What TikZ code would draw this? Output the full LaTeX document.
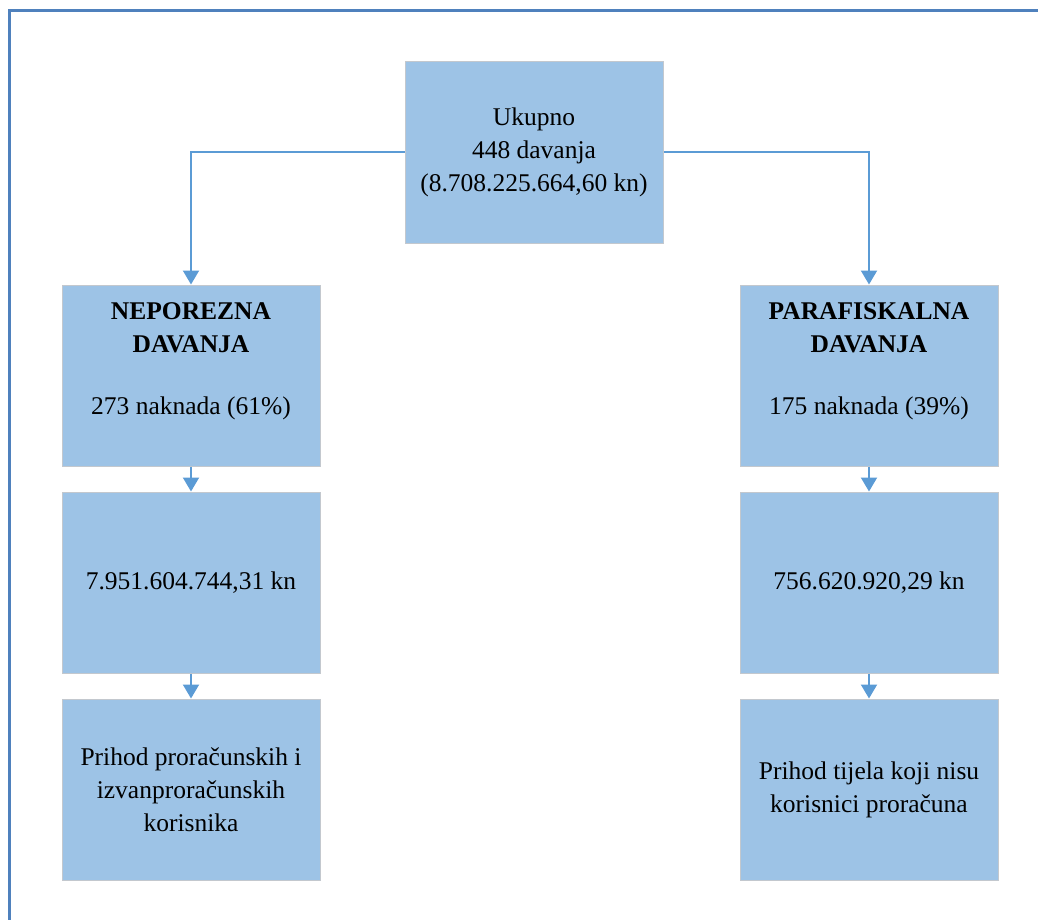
\documentclass[tikz,border=0pt]{standalone}
\usepackage{fontspec}
\setmainfont{Liberation Serif}
\usetikzlibrary{arrows.meta}
\definecolor{boxfill}{RGB}{157,195,230}
\definecolor{boxline}{RGB}{195,200,206}
\definecolor{arrline}{RGB}{91,155,213}
\definecolor{frameline}{RGB}{79,129,189}
\tikzset{
    BX/.style ={rectangle,minimum width = 258pt, minimum height = 181pt, draw=boxline, line width=1pt, fill=boxfill,
                align=center, inner sep=0pt, font=\fontsize{25.5}{33}\selectfont},
    AR/.style ={draw=arrline, line width=2pt, -{Triangle[width=16pt,length=14pt]}}}

\begin{document}
\begin{tikzpicture}[x=1pt,y=-1pt]
        \useasboundingbox (0,0) rectangle (1038,920);
        \draw[frameline,line width=2.2pt] (9.5,920) -- (9.5,10.5) -- (1038,10.5);
        \node[BX](1)  at (534,152.5) {Ukupno\\448 davanja\\(8.708.225.664,60 kn)};
        \node[BX](2)  at (191,375.5) {\textbf{NEPOREZNA}\\\textbf{DAVANJA}\\[29pt]273 naknada (61\%)\\[0pt]\mbox{}};
        \node[BX](3)  at (191,582.5) {7.951.604.744,31 kn};
        \node[BX](4)  at (191,789.5) {Prihod proračunskih i\\izvanproračunskih\\korisnika};
        \node[BX](5)  at (869,375.5) {\textbf{PARAFISKALNA}\\\textbf{DAVANJA}\\[29pt]175 naknada (39\%)\\[0pt]\mbox{}};
        \node[BX](6)  at (869,582.5) {756.620.920,29 kn};
        \node[BX](7)  at (869,789.5) {Prihod tijela koji nisu\\korisnici proračuna};
        \draw[AR] (1.west) -| (2.north);
        \draw[AR] (1.east) -| (5.north);
        \draw[AR] (2) -- (3);
        \draw[AR] (3) -- (4);
        \draw[AR] (5) -- (6);
        \draw[AR] (6) -- (7);
    \end{tikzpicture}
\end{document}
